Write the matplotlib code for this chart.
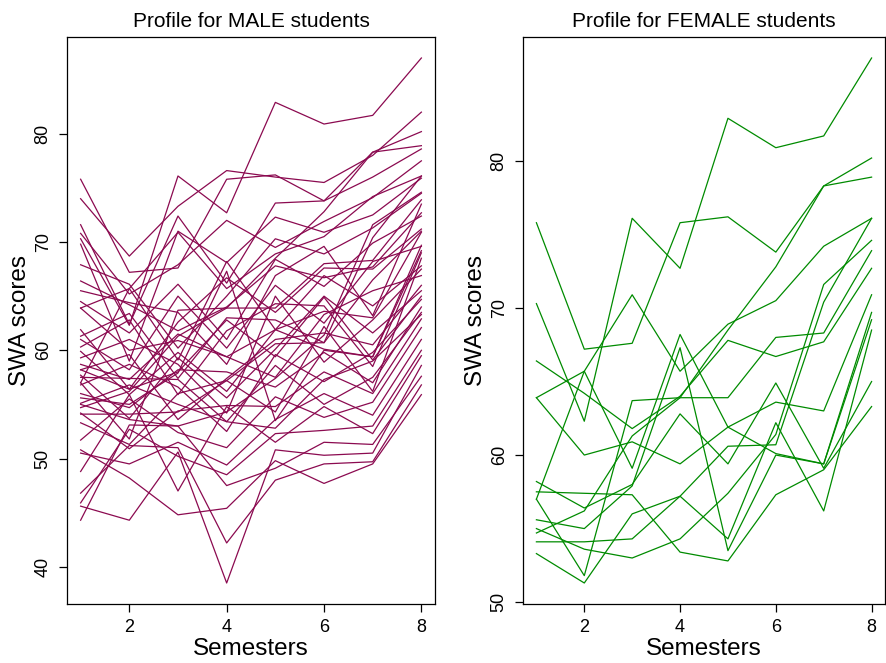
import matplotlib
matplotlib.use("Agg")
import matplotlib.pyplot as plt

plt.rcParams["font.family"] = ["Liberation Sans", "DejaVu Sans"]

semesters = [1, 2, 3, 4, 5, 6, 7, 8]

# SWA scores, one list per student (semesters 1..8)
female_scores = [
    [70.3, 62.3, 76.1, 72.7, 82.9, 80.9, 81.7, 87.0],
    [75.8, 67.2, 67.6, 75.8, 76.2, 73.8, 78.3, 80.2],
    [57.0, 65.7, 70.9, 65.7, 68.9, 70.5, 74.2, 76.1],
    [63.9, 65.7, 59.1, 68.2, 61.9, 60.1, 59.4, 69.7],
    [66.4, 64.2, 61.8, 64.0, 67.8, 66.7, 67.7, 72.7],
    [63.9, 60.0, 60.9, 59.4, 61.9, 63.6, 63.0, 70.9],
    [57.5, 57.4, 57.3, 53.4, 52.8, 57.3, 59.0, 63.3],
    [54.1, 54.1, 54.3, 57.2, 54.3, 62.2, 56.2, 68.5],
    [53.3, 51.3, 56.0, 57.2, 60.6, 60.7, 70.4, 76.1],
    [55.0, 53.6, 53.0, 54.3, 57.4, 61.4, 71.6, 74.6],
    [57.0, 51.8, 63.7, 63.9, 68.5, 72.8, 78.3, 78.9],
    [58.2, 56.4, 58.0, 62.8, 59.4, 64.9, 59.1, 65.0],
    [55.6, 55.0, 57.9, 67.3, 53.5, 60.0, 59.4, 69.2],
    [54.7, 56.2, 61.3, 63.9, 63.9, 68.0, 68.3, 73.9],
]

male_scores = [
    [74.0, 68.7, 73.3, 76.6, 76.0, 75.5, 78.0, 82.0],
    [71.6, 62.4, 72.4, 66.2, 73.6, 73.8, 76.0, 78.6],
    [70.8, 65.2, 67.9, 72.0, 69.5, 71.9, 74.1, 77.5],
    [69.8, 59.0, 71.0, 68.1, 72.3, 70.9, 72.5, 75.9],
    [67.9, 66.1, 60.2, 65.0, 70.3, 68.9, 71.3, 74.5],
    [65.5, 64.4, 63.5, 58.7, 66.9, 69.6, 63.2, 73.5],
    [64.5, 61.6, 66.1, 61.0, 68.4, 65.9, 69.9, 72.4],
    [61.9, 56.4, 62.6, 66.7, 63.5, 67.6, 67.5, 71.2],
    [61.3, 63.4, 57.4, 63.0, 62.8, 60.7, 66.5, 71.0],
    [61.0, 58.2, 65.0, 60.2, 66.0, 62.5, 68.2, 69.6],
    [60.3, 62.8, 55.9, 61.8, 64.3, 64.1, 58.5, 69.0],
    [59.9, 55.9, 59.8, 56.2, 61.9, 66.9, 64.1, 67.8],
    [59.3, 61.0, 58.7, 54.2, 65.0, 58.9, 62.8, 67.5],
    [58.7, 57.3, 61.5, 59.4, 57.5, 63.3, 65.5, 66.9],
    [58.2, 59.6, 53.6, 57.4, 61.0, 61.6, 60.5, 66.0],
    [57.7, 53.7, 59.3, 55.6, 60.1, 65.0, 61.6, 65.5],
    [56.8, 58.7, 56.6, 52.5, 59.6, 57.1, 59.8, 64.7],
    [56.0, 54.7, 58.2, 58.0, 56.6, 59.8, 57.0, 64.0],
    [55.1, 56.8, 55.0, 53.4, 58.6, 55.0, 57.5, 63.5],
    [54.2, 50.9, 54.4, 54.9, 54.8, 58.0, 56.0, 62.9],
    [51.7, 55.5, 52.4, 51.0, 55.7, 53.8, 55.2, 62.1],
    [50.8, 48.2, 44.8, 45.4, 49.8, 47.7, 49.5, 55.9],
    [50.5, 49.5, 51.5, 49.4, 53.6, 56.0, 54.0, 61.0],
    [45.9, 52.7, 50.2, 48.5, 52.3, 52.6, 53.0, 60.0],
    [48.8, 55.9, 47.0, 54.8, 51.5, 54.8, 52.3, 59.5],
    [45.6, 44.3, 50.6, 38.5, 50.8, 50.3, 50.5, 58.6],
    [44.3, 53.1, 53.0, 47.5, 49.1, 51.5, 51.3, 57.6],
    [46.8, 51.2, 51.0, 42.2, 48.0, 49.5, 49.7, 56.8],
]

male_ticks = [40, 50, 60, 70, 80]
female_ticks = [50, 60, 70, 80]
x_ticks = [2, 4, 6, 8]

W, H = 887, 663
fig = plt.figure(figsize=(W / 100, H / 100), dpi=100)

ax1 = fig.add_axes([67 / W, 1 - 604 / H, (435 - 67) / W, (604 - 37) / H])
ax2 = fig.add_axes([523 / W, 1 - 604 / H, (885 - 523) / W, (604 - 37) / H])


def style(ax, title, yticks):
    ax.margins(x=0.04, y=0.04)
    ax.set_xticks(x_ticks)
    ax.set_yticks(yticks)
    ax.set_title(title, fontsize=15, pad=7)
    ax.set_xlabel("Semesters", fontsize=17.5, labelpad=1)
    ax.set_ylabel("SWA scores", fontsize=17.5, labelpad=3)
    ax.tick_params(direction="out", length=6, width=0.9, labelsize=13, pad=5)
    for lab in ax.get_yticklabels():
        lab.set_rotation(90)
        lab.set_va("center")
    for sp in ax.spines.values():
        sp.set_linewidth(0.9)


# the male panel in the picture also carries the female profiles
for s in male_scores + female_scores:
    ax1.plot(semesters, s, color="#8B0A50", lw=0.9)
style(ax1, "Profile for MALE students", male_ticks)

for s in female_scores:
    ax2.plot(semesters, s, color="#008B00", lw=0.9)
style(ax2, "Profile for FEMALE students", female_ticks)

fig.savefig("out.png", dpi=100)
